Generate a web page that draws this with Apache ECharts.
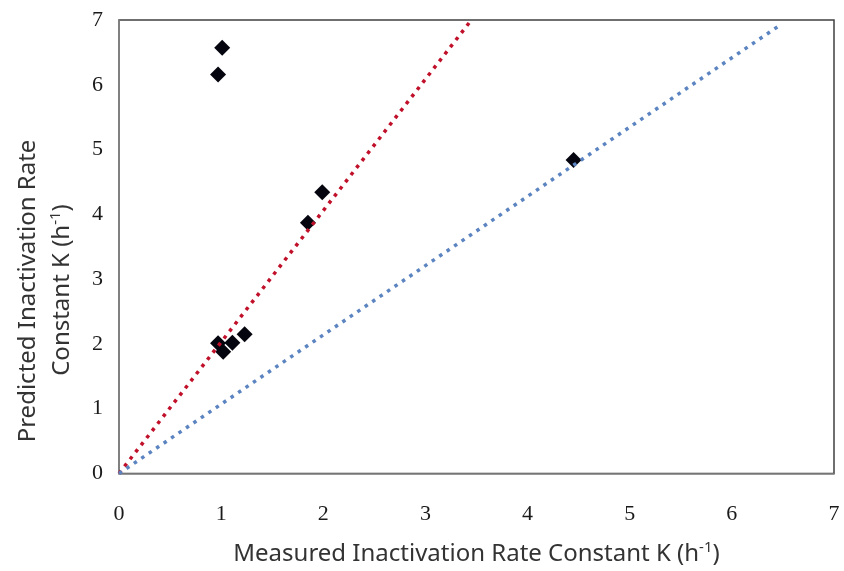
<!DOCTYPE html>
<html>
<head>
<meta charset="utf-8">
<script src="https://cdn.jsdelivr.net/npm/echarts@6/dist/echarts.min.js"></script>
<style>html,body{margin:0;padding:0;background:#fff}#c{width:844px;height:571px}</style>
</head>
<body>
<div id="c"></div>
<script>
var measuredK = [1.01, 0.97, 1.99, 1.85, 1.23, 1.11, 1.02, 0.97, 4.45];
var predictedK = [6.57, 6.16, 4.34, 3.87, 2.15, 2.02, 1.88, 2.01, 4.84];
var redLineX = [0, 3.45];
var redLineY = [0, 7];
var blueLineX = [0, 6.48];
var blueLineY = [0, 6.93];
var xTicks = [0, 1, 2, 3, 4, 5, 6, 7];
var yTicks = [0, 1, 2, 3, 4, 5, 6, 7];

function pairs(xs, ys) { return xs.map(function (x, i) { return [x, ys[i]]; }); }

var titleFont = 'Noto Sans';
var chart = echarts.init(document.getElementById('c'));
var tickFont = { fontFamily: 'Liberation Serif', fontSize: 22, color: '#1a1a1a' };
chart.setOption({
  animation: false,
  grid: { left: 119, right: 10, top: 20, bottom: 92, show: true, borderColor: '#404040', borderWidth: 1.5 },
  xAxis: {
    type: 'value', min: xTicks[0], max: xTicks[xTicks.length - 1], interval: 1,
    splitLine: { show: false },
    axisTick: { show: false },
    axisLine: { lineStyle: { color: '#868686', width: 1.5 } },
    axisLabel: Object.assign({ margin: 30 }, tickFont),
    name: 'Measured Inactivation Rate Constant K (h{s|-1})',
    nameLocation: 'middle', nameGap: 67,
    nameTextStyle: {
      fontFamily: titleFont, fontSize: 24, color: '#333',
      rich: { s: { fontFamily: titleFont, fontSize: 15, color: '#333', padding: [0, 0, 12, 0] } }
    }
  },
  yAxis: {
    type: 'value', min: yTicks[0], max: yTicks[yTicks.length - 1], interval: 1,
    splitLine: { show: false },
    axisTick: { show: false },
    axisLine: { lineStyle: { color: '#868686', width: 1.5 } },
    axisLabel: Object.assign({ margin: 16 }, tickFont)
  },
  graphic: [
    {
      type: 'text', x: 28, y: 291, rotation: Math.PI / 2,
      style: {
        text: 'Predicted Inactivation Rate',
        fontFamily: titleFont, fontSize: 24, fill: '#333',
        align: 'center', verticalAlign: 'middle'
      }
    },
    {
      type: 'text', x: 62, y: 290, rotation: Math.PI / 2,
      style: {
        text: 'Constant K (h{s|-1})',
        fontFamily: titleFont, fontSize: 24, fill: '#333',
        align: 'center', verticalAlign: 'middle',
        rich: { s: { fontFamily: titleFont, fontSize: 15, fill: '#333', padding: [0, 0, 12, 0] } }
      }
    }
  ],
  series: [
    {
      type: 'scatter', data: pairs(measuredK, predictedK),
      symbol: 'diamond', symbolSize: 16,
      itemStyle: { color: '#05050f', opacity: 1 }, z: 2
    },
    {
      type: 'line', data: pairs(redLineX, redLineY), symbol: 'none',
      lineStyle: { color: '#c0102a', width: 3.5, type: [3.5, 5.5] }, z: 3
    },
    {
      type: 'line', data: pairs(blueLineX, blueLineY), symbol: 'none',
      lineStyle: { color: '#5b84c0', width: 3.5, type: [3.5, 5.5] }, z: 3
    }
  ]
});
</script>
</body>
</html>
